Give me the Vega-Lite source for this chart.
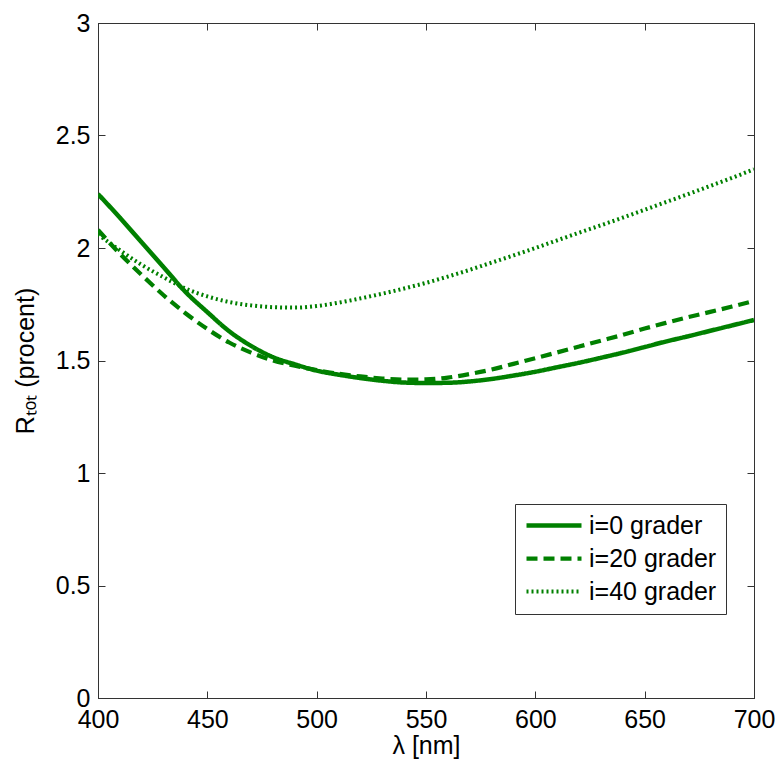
{
  "$schema": "https://vega.github.io/schema/vega-lite/v6.json",
  "width": 656,
  "height": 675,
  "autosize": {"type": "none"},
  "padding": {"left": 98, "top": 23, "right": 26, "bottom": 63},
  "background": "white",
  "config": {
    "view": {"stroke": "#333333", "strokeWidth": 1},
    "axis": {
      "grid": false,
      "domainColor": "#333333",
      "tickColor": "#333333",
      "tickSize": -7,
      "labelFlush": false,
      "labelFont": "Liberation Sans",
      "labelFontSize": 25,
      "labelColor": "#000000",
      "titleFont": "Liberation Sans",
      "titleFontSize": 25,
      "titleFontWeight": "normal",
      "titleColor": "#000000"
    }
  },
  "datasets": {
    "curves": [
      {"lambda": 400, "R": 2.24, "series": "i=0 grader"},
      {"lambda": 410, "R": 2.135, "series": "i=0 grader"},
      {"lambda": 420, "R": 2.025, "series": "i=0 grader"},
      {"lambda": 430, "R": 1.915, "series": "i=0 grader"},
      {"lambda": 440, "R": 1.805, "series": "i=0 grader"},
      {"lambda": 450, "R": 1.715, "series": "i=0 grader"},
      {"lambda": 460, "R": 1.63, "series": "i=0 grader"},
      {"lambda": 470, "R": 1.565, "series": "i=0 grader"},
      {"lambda": 480, "R": 1.515, "series": "i=0 grader"},
      {"lambda": 490, "R": 1.483, "series": "i=0 grader"},
      {"lambda": 500, "R": 1.455, "series": "i=0 grader"},
      {"lambda": 510, "R": 1.437, "series": "i=0 grader"},
      {"lambda": 520, "R": 1.422, "series": "i=0 grader"},
      {"lambda": 530, "R": 1.41, "series": "i=0 grader"},
      {"lambda": 540, "R": 1.402, "series": "i=0 grader"},
      {"lambda": 550, "R": 1.40, "series": "i=0 grader"},
      {"lambda": 560, "R": 1.401, "series": "i=0 grader"},
      {"lambda": 570, "R": 1.407, "series": "i=0 grader"},
      {"lambda": 580, "R": 1.418, "series": "i=0 grader"},
      {"lambda": 590, "R": 1.433, "series": "i=0 grader"},
      {"lambda": 600, "R": 1.45, "series": "i=0 grader"},
      {"lambda": 610, "R": 1.47, "series": "i=0 grader"},
      {"lambda": 620, "R": 1.49, "series": "i=0 grader"},
      {"lambda": 630, "R": 1.512, "series": "i=0 grader"},
      {"lambda": 640, "R": 1.535, "series": "i=0 grader"},
      {"lambda": 650, "R": 1.56, "series": "i=0 grader"},
      {"lambda": 660, "R": 1.585, "series": "i=0 grader"},
      {"lambda": 670, "R": 1.608, "series": "i=0 grader"},
      {"lambda": 680, "R": 1.632, "series": "i=0 grader"},
      {"lambda": 690, "R": 1.656, "series": "i=0 grader"},
      {"lambda": 700, "R": 1.68, "series": "i=0 grader"},
      {"lambda": 400, "R": 2.08, "series": "i=20 grader"},
      {"lambda": 410, "R": 1.975, "series": "i=20 grader"},
      {"lambda": 420, "R": 1.88, "series": "i=20 grader"},
      {"lambda": 430, "R": 1.79, "series": "i=20 grader"},
      {"lambda": 440, "R": 1.71, "series": "i=20 grader"},
      {"lambda": 450, "R": 1.64, "series": "i=20 grader"},
      {"lambda": 460, "R": 1.58, "series": "i=20 grader"},
      {"lambda": 470, "R": 1.535, "series": "i=20 grader"},
      {"lambda": 480, "R": 1.50, "series": "i=20 grader"},
      {"lambda": 490, "R": 1.477, "series": "i=20 grader"},
      {"lambda": 500, "R": 1.457, "series": "i=20 grader"},
      {"lambda": 510, "R": 1.441, "series": "i=20 grader"},
      {"lambda": 520, "R": 1.429, "series": "i=20 grader"},
      {"lambda": 530, "R": 1.42, "series": "i=20 grader"},
      {"lambda": 540, "R": 1.415, "series": "i=20 grader"},
      {"lambda": 550, "R": 1.416, "series": "i=20 grader"},
      {"lambda": 560, "R": 1.424, "series": "i=20 grader"},
      {"lambda": 570, "R": 1.44, "series": "i=20 grader"},
      {"lambda": 580, "R": 1.46, "series": "i=20 grader"},
      {"lambda": 590, "R": 1.485, "series": "i=20 grader"},
      {"lambda": 600, "R": 1.51, "series": "i=20 grader"},
      {"lambda": 610, "R": 1.536, "series": "i=20 grader"},
      {"lambda": 620, "R": 1.562, "series": "i=20 grader"},
      {"lambda": 630, "R": 1.588, "series": "i=20 grader"},
      {"lambda": 640, "R": 1.614, "series": "i=20 grader"},
      {"lambda": 650, "R": 1.642, "series": "i=20 grader"},
      {"lambda": 660, "R": 1.668, "series": "i=20 grader"},
      {"lambda": 670, "R": 1.693, "series": "i=20 grader"},
      {"lambda": 680, "R": 1.716, "series": "i=20 grader"},
      {"lambda": 690, "R": 1.74, "series": "i=20 grader"},
      {"lambda": 700, "R": 1.765, "series": "i=20 grader"},
      {"lambda": 400, "R": 2.06, "series": "i=40 grader"},
      {"lambda": 410, "R": 1.99, "series": "i=40 grader"},
      {"lambda": 420, "R": 1.925, "series": "i=40 grader"},
      {"lambda": 430, "R": 1.87, "series": "i=40 grader"},
      {"lambda": 440, "R": 1.82, "series": "i=40 grader"},
      {"lambda": 450, "R": 1.785, "series": "i=40 grader"},
      {"lambda": 460, "R": 1.76, "series": "i=40 grader"},
      {"lambda": 470, "R": 1.745, "series": "i=40 grader"},
      {"lambda": 480, "R": 1.737, "series": "i=40 grader"},
      {"lambda": 490, "R": 1.735, "series": "i=40 grader"},
      {"lambda": 500, "R": 1.742, "series": "i=40 grader"},
      {"lambda": 510, "R": 1.757, "series": "i=40 grader"},
      {"lambda": 520, "R": 1.776, "series": "i=40 grader"},
      {"lambda": 530, "R": 1.797, "series": "i=40 grader"},
      {"lambda": 540, "R": 1.82, "series": "i=40 grader"},
      {"lambda": 550, "R": 1.845, "series": "i=40 grader"},
      {"lambda": 560, "R": 1.873, "series": "i=40 grader"},
      {"lambda": 570, "R": 1.903, "series": "i=40 grader"},
      {"lambda": 580, "R": 1.935, "series": "i=40 grader"},
      {"lambda": 590, "R": 1.967, "series": "i=40 grader"},
      {"lambda": 600, "R": 2.00, "series": "i=40 grader"},
      {"lambda": 610, "R": 2.034, "series": "i=40 grader"},
      {"lambda": 620, "R": 2.068, "series": "i=40 grader"},
      {"lambda": 630, "R": 2.101, "series": "i=40 grader"},
      {"lambda": 640, "R": 2.135, "series": "i=40 grader"},
      {"lambda": 650, "R": 2.17, "series": "i=40 grader"},
      {"lambda": 660, "R": 2.205, "series": "i=40 grader"},
      {"lambda": 670, "R": 2.24, "series": "i=40 grader"},
      {"lambda": 680, "R": 2.276, "series": "i=40 grader"},
      {"lambda": 690, "R": 2.312, "series": "i=40 grader"},
      {"lambda": 700, "R": 2.35, "series": "i=40 grader"}
    ]
  },
  "data": {"name": "curves"},
  "layer": [
    {
      "mark": {"type": "line", "color": "#008000", "interpolate": "monotone", "clip": true},
      "encoding": {
        "x": {
          "field": "lambda", "type": "quantitative",
          "scale": {"domain": [400, 700], "nice": false, "zero": false},
          "axis": {
            "orient": "bottom",
            "values": [400, 450, 500, 550, 600, 650, 700],
            "labelPadding": 16,
            "title": "λ [nm]",
            "titleY": 55,
            "titleBaseline": "alphabetic"
          }
        },
        "y": {
          "field": "R", "type": "quantitative",
          "scale": {"domain": [0, 3], "nice": false},
          "axis": {
            "orient": "left",
            "values": [0, 0.5, 1, 1.5, 2, 2.5, 3],
            "format": "~g",
            "labelPadding": 15,
            "title": "Rₜₒₜ (procent)",
            "titleX": -65,
            "titleY": 337.5,
            "titleBaseline": "alphabetic",
            "titleAlign": "center"
          }
        },
        "strokeDash": {
          "field": "series", "type": "nominal",
          "scale": {"domain": ["i=0 grader", "i=20 grader", "i=40 grader"], "range": [[1, 0], [11, 6], [2, 3]]},
          "legend": {
            "title": null,
            "orient": "none",
            "legendX": 417,
            "legendY": 481,
            "padding": 9,
            "fillColor": "white",
            "strokeColor": "#333333",
            "symbolType": "M-1,0H4.5",
            "symbolSize": 400,
            "symbolStrokeColor": "#008000",
            "symbolFillColor": "transparent",
            "labelFont": "Liberation Sans",
            "labelFontSize": 25,
            "labelColor": "#000000",
            "labelOffset": 40,
            "rowPadding": 7
          }
        },
        "strokeWidth": {
          "field": "series", "type": "nominal",
          "scale": {"domain": ["i=0 grader", "i=20 grader", "i=40 grader"], "range": [4.5, 4, 2.5]},
          "legend": {
            "title": null,
            "orient": "none",
            "legendX": 417,
            "legendY": 481,
            "padding": 9,
            "fillColor": "white",
            "strokeColor": "#333333",
            "symbolType": "M-1,0H4.5",
            "symbolSize": 400,
            "symbolStrokeColor": "#008000",
            "symbolFillColor": "transparent",
            "labelFont": "Liberation Sans",
            "labelFontSize": 25,
            "labelColor": "#000000",
            "labelOffset": 40,
            "rowPadding": 7
          }
        }
      }
    },
    {
      "mark": {"type": "point", "opacity": 0},
      "encoding": {
        "x": {
          "field": "lambda", "type": "quantitative",
          "scale": {"domain": [400, 700], "nice": false, "zero": false},
          "axis": {"orient": "top", "values": [400, 450, 500, 550, 600, 650, 700], "labels": false, "title": null}
        },
        "y": {
          "field": "R", "type": "quantitative",
          "scale": {"domain": [0, 3], "nice": false},
          "axis": {"orient": "right", "values": [0, 0.5, 1, 1.5, 2, 2.5, 3], "labels": false, "title": null}
        }
      }
    }
  ],
  "resolve": {"axis": {"x": "independent", "y": "independent"}}
}
